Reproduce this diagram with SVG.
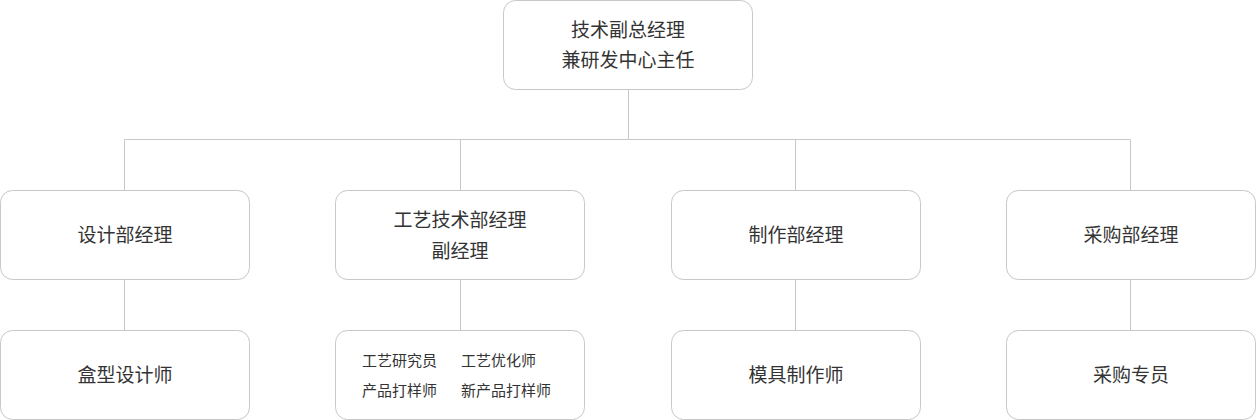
<svg xmlns="http://www.w3.org/2000/svg" width="1256" height="420" viewBox="0 0 1256 420">
<style>
.b{fill:#fff;stroke:#c8c8c8;stroke-width:1}
.t{font-family:"Noto Sans CJK SC",sans-serif;font-size:19px;fill:#333;text-anchor:middle}
.s{font-family:"Noto Sans CJK SC",sans-serif;font-size:15px;fill:#333}
.c{stroke:#c8c8c8;stroke-width:1;fill:none}
</style>
<rect width="1256" height="420" fill="#fff"/>
<g id="connectors">
<path class="c" d="M628.5 89V139.5M124.5 139.5H1130.5M124.5 139.5V190M460.5 139.5V190M795.5 139.5V190M1130.5 139.5V190M124.5 279V330M460.5 279V330M795.5 279V330M1130.5 279V330"/>
</g>
<g id="n0"><rect class="b" x="503.5" y="0.5" width="249" height="89" rx="12"/><text class="t" x="628" y="37">技术副总经理</text><text class="t" x="628" y="67">兼研发中心主任</text></g>
<g id="n1"><rect class="b" x="0.5" y="190.5" width="249" height="89" rx="12"/><text class="t" x="125" y="242">设计部经理</text></g>
<g id="n2"><rect class="b" x="335.5" y="190.5" width="249" height="89" rx="12"/><text class="t" x="460" y="227">工艺技术部经理</text><text class="t" x="460" y="258">副经理</text></g>
<g id="n3"><rect class="b" x="671.5" y="190.5" width="249" height="89" rx="12"/><text class="t" x="796" y="242">制作部经理</text></g>
<g id="n4"><rect class="b" x="1006.5" y="190.5" width="249" height="89" rx="12"/><text class="t" x="1131" y="242">采购部经理</text></g>
<g id="n5"><rect class="b" x="0.5" y="330.5" width="249" height="89" rx="12"/><text class="t" x="125" y="382">盒型设计师</text></g>
<g id="n6"><rect class="b" x="335.5" y="330.5" width="249" height="89" rx="12"/><text class="s" x="362" y="366">工艺研究员</text><text class="s" x="461" y="366">工艺优化师</text><text class="s" x="362" y="396">产品打样师</text><text class="s" x="461" y="396">新产品打样师</text></g>
<g id="n7"><rect class="b" x="671.5" y="330.5" width="249" height="89" rx="12"/><text class="t" x="796" y="382">模具制作师</text></g>
<g id="n8"><rect class="b" x="1006.5" y="330.5" width="249" height="89" rx="12"/><text class="t" x="1131" y="382">采购专员</text></g>
</svg>
